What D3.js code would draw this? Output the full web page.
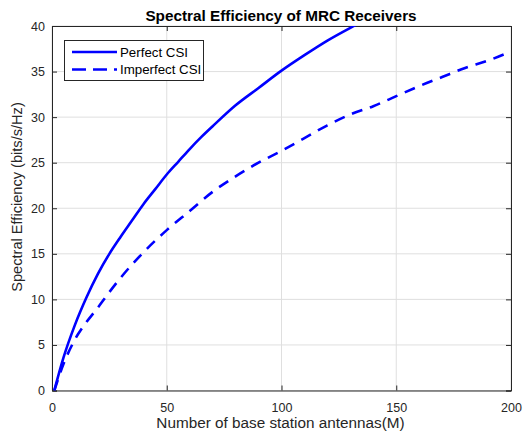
<!DOCTYPE html>
<html><head><meta charset="utf-8">
<script src="https://cdn.jsdelivr.net/npm/d3@7"></script>
<style>body{margin:0;background:#fff;} text{font-family:"Liberation Sans",Arial,sans-serif;}</style>
</head><body><svg id="chart" width="523" height="437"></svg>
<script>
const antennasPerfect = [1,5,10,15,20,25,30,35,40,45,50,55,60,65,70,80,90,100,110,120,130,140];
const perfectCSI      = [0,3.6,7.2,10.2,12.8,15.0,16.9,18.7,20.5,22.1,23.7,25.1,26.5,27.8,29.0,31.3,33.2,35.1,36.8,38.4,39.8,41.1];
const antennasImperfect = [1,5,10,15,20,25,30,40,50,60,70,80,90,100,110,120,130,140,150,160,170,180,190,200];
const imperfectCSI      = [0,2.9,5.6,7.5,9.1,10.8,12.4,15.2,17.6,19.7,21.8,23.5,25.0,26.3,27.7,29.1,30.3,31.2,32.3,33.4,34.4,35.4,36.2,37.2];
const xTicks = [0,50,100,150,200];
const yTicks = [0,5,10,15,20,25,30,35,40];
const seriesNames = ["Perfect CSI","Imperfect CSI"];

const svg = d3.select("#chart");
const L=52, R=511, T=26, B=390.5;
const x = d3.scaleLinear().domain([0,200]).range([L,R]);
const y = d3.scaleLinear().domain([0,40]).range([B,T]);
const axisCol = "#262626";

// grid
const g = svg.append("g");
g.selectAll(".gx").data(xTicks).join("line").attr("x1",d=>x(d)).attr("x2",d=>x(d)).attr("y1",T).attr("y2",B).attr("stroke","#dfdfdf").attr("stroke-width",1);
g.selectAll(".gy").data(yTicks).join("line").attr("y1",d=>y(d)).attr("y2",d=>y(d)).attr("x1",L).attr("x2",R).attr("stroke","#dfdfdf").attr("stroke-width",1);

// axes
const ax = svg.append("g").attr("transform",`translate(0,${B})`).call(d3.axisBottom(x).tickValues(xTicks).tickSize(-5).tickPadding(12.5));
const axTop = svg.append("g").attr("transform",`translate(0,${T})`).call(d3.axisTop(x).tickValues(xTicks).tickSize(-5).tickFormat(""));
const ay = svg.append("g").attr("transform",`translate(${L},0)`).call(d3.axisLeft(y).tickValues(yTicks).tickSize(-5).tickPadding(7));
const ayR = svg.append("g").attr("transform",`translate(${R},0)`).call(d3.axisRight(y).tickValues(yTicks).tickSize(-5).tickFormat(""));
[ax,axTop,ay,ayR].forEach(a=>{
  a.select(".domain").attr("stroke",axisCol).attr("stroke-width",1);
  a.selectAll(".tick line").attr("stroke",axisCol);
  a.selectAll("text").attr("fill",axisCol).attr("font-size","12.5px").attr("font-family","Liberation Sans, Arial, sans-serif");
});

// clip
svg.append("clipPath").attr("id","clip").append("rect").attr("x",L).attr("y",T).attr("width",R-L).attr("height",B-T);

const line = d3.line().x(d=>x(d[0])).y(d=>y(d[1])).curve(d3.curveMonotoneX);
const plot = svg.append("g").attr("clip-path","url(#clip)");
plot.append("path").datum(d3.zip(antennasPerfect,perfectCSI)).attr("d",line).attr("fill","none").attr("stroke","#0000ff").attr("stroke-width",2.6);
plot.append("path").datum(d3.zip(antennasImperfect,imperfectCSI)).attr("d",line).attr("fill","none").attr("stroke","#0000ff").attr("stroke-width",2.6).attr("stroke-dasharray","11,8");

// legend
const lg = svg.append("g");
lg.append("rect").attr("x",64.5).attr("y",40.5).attr("width",139).attr("height",40).attr("fill","#fff").attr("stroke",axisCol).attr("stroke-width",1);
const legY=[52,69.5];
lg.selectAll(".ll").data(seriesNames).join("line").attr("x1",72).attr("x2",117).attr("y1",(d,i)=>legY[i]).attr("y2",(d,i)=>legY[i])
  .attr("stroke","#0000ff").attr("stroke-width",2.6).attr("stroke-dasharray",(d,i)=>i?"14,7":null);
lg.selectAll(".lt").data(seriesNames).join("text").attr("x",120).attr("y",(d,i)=>legY[i]+4.8).text(d=>d).attr("font-size","13.3px").attr("fill","#000");

// title & labels
svg.append("text").attr("x",281).attr("y",20.7).attr("text-anchor","middle").attr("font-weight","bold").attr("font-size","15.3px").attr("fill","#000").text("Spectral Efficiency of MRC Receivers");
svg.append("text").attr("x",280.5).attr("y",428).attr("text-anchor","middle").attr("font-size","15.3px").attr("fill",axisCol).text("Number of base station antennas(M)");
svg.append("text").attr("transform",`translate(21.5,197) rotate(-90)`).attr("text-anchor","middle").attr("font-size","14.6px").attr("fill",axisCol).text("Spectral Efficiency (bits/s/Hz)");
</script></body></html>
